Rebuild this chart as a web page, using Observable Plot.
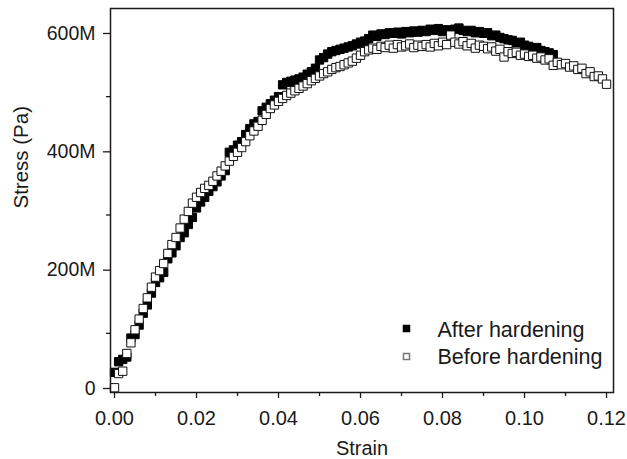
<!DOCTYPE html>
<html>
<head>
<meta charset="utf-8">
<script src="https://cdn.jsdelivr.net/npm/d3@7"></script>
<script src="https://cdn.jsdelivr.net/npm/@observablehq/plot@0.6"></script>
<style>
  html, body { margin: 0; padding: 0; background: #fff; }
  #chart { width: 627px; height: 459px; }
</style>
</head>
<body>
<div id="chart"></div>
<script>
// Strain values (dimensionless) and stress values (MPa)
const beforeStrain = [
  0.000,0.001,0.002,0.003,0.004,0.005,0.006,0.007,0.008,0.009,
  0.010,0.011,0.012,0.013,0.014,0.015,0.016,0.017,0.018,0.019,
  0.020,0.021,0.022,0.023,0.024,0.025,0.026,0.027,0.028,0.029,
  0.030,0.031,0.032,0.033,0.034,0.035,0.036,0.037,0.038,0.039,
  0.040,0.041,0.042,0.043,0.044,0.045,0.046,0.047,0.048,0.049,
  0.050,0.051,0.052,0.053,0.054,0.055,0.056,0.057,0.058,0.059,
  0.060,0.061,0.062,0.063,0.064,0.065,0.066,0.067,0.068,0.069,
  0.070,0.071,0.072,0.073,0.074,0.075,0.076,0.077,0.078,0.079,
  0.080,0.081,0.082,0.083,0.084,0.085,0.086,0.087,0.088,0.089,
  0.090,0.091,0.092,0.093,0.094,0.095,0.096,0.097,0.098,0.099,
  0.100,0.101,0.102,0.103,0.104,0.105,0.106,0.107,0.108,0.109,
  0.110,0.111,0.112,0.113,0.114,0.115,0.116,0.117,0.118,0.119,
  0.120
];
const beforeStress = [
  8,32,36,66,84,106,124,142,160,178,
  195,206,218,235,250,262,278,293,306,320,
  330,338,345,350,357,366,374,383,391,399,
  406,414,424,434,442,450,460,470,480,486,
  492,497,502,506,510,514,518,522,527,531,
  535,539,542,546,549,551,554,557,560,565,
  570,576,579,582,580,585,583,587,582,588,
  584,586,589,583,587,585,588,584,590,586,
  592,588,604,592,589,593,586,590,582,587,
  585,581,584,577,580,567,576,573,575,570,
  572,568,570,565,567,562,564,553,558,554,
  556,550,552,546,548,539,542,534,535,530,
  521
];
const afterStrain = [
  0.000,0.001,0.002,0.003,0.004,0.005,0.006,0.007,0.008,0.009,
  0.010,0.011,0.012,0.013,0.014,0.015,0.016,0.017,0.018,0.019,
  0.020,0.021,0.022,0.023,0.024,0.025,0.026,0.027,0.028,0.029,
  0.030,0.031,0.032,0.033,0.034,0.035,0.036,0.037,0.038,0.039,
  0.040,0.041,0.042,0.043,0.044,0.045,0.046,0.047,0.048,0.049,
  0.050,0.051,0.052,0.053,0.054,0.055,0.056,0.057,0.058,0.059,
  0.060,0.061,0.062,0.063,0.064,0.065,0.066,0.067,0.068,0.069,
  0.070,0.071,0.072,0.073,0.074,0.075,0.076,0.077,0.078,0.079,
  0.080,0.081,0.082,0.083,0.084,0.085,0.086,0.087,0.088,0.089,
  0.090,0.091,0.092,0.093,0.094,0.095,0.096,0.097,0.098,0.099,
  0.100,0.101,0.102,0.103,0.104,0.105,0.106,0.107
];
const afterStress = [
  34,52,56,60,92,98,114,134,148,168,
  186,194,203,226,236,248,262,270,284,296,
  312,322,330,340,348,356,366,375,406,410,
  418,424,436,446,454,458,476,482,488,494,
  500,520,524,526,528,530,533,538,542,548,
  562,566,572,576,578,580,582,584,586,589,
  592,594,598,604,602,606,605,608,607,609,
  606,610,608,611,609,612,610,614,612,615,
  610,613,611,614,616,612,610,612,608,610,
  607,608,603,604,600,598,596,595,591,592,
  587,585,582,583,578,576,574,571
];
const xMajorTicks = [0, 0.02, 0.04, 0.06, 0.08, 0.10, 0.12];
const xMinorTicks = [0.01, 0.03, 0.05, 0.07, 0.09, 0.11];
const yMajorTicks = [0, 200e6, 400e6, 600e6];
const yMinorTicks = [100e6, 300e6, 500e6];
const seriesNames = ["After hardening", "Before hardening"];

const after = afterStrain.map((s, i) => ({strain: s, stress: afterStress[i] * 1e6}));
const before = beforeStrain.map((s, i) => ({strain: s, stress: beforeStress[i] * 1e6}));

const font = "'Liberation Sans', Arial, Helvetica, sans-serif";
const ink = "#1a1a1a";

const chart = Plot.plot({
  width: 627,
  height: 459,
  marginLeft: 110,
  marginRight: 14,
  marginTop: 8,
  marginBottom: 67,
  style: {fontFamily: font, fontSize: "20px", color: ink, background: "#fff", overflow: "visible"},
  x: {domain: [-0.00098, 0.1217]},
  y: {domain: [0, 649e6]},
  marks: [
    Plot.dot(after, {x: "strain", y: "stress", symbol: "square", r: 4.7, fill: "#000", stroke: "#000", strokeWidth: 1}),
    Plot.dot(before, {x: "strain", y: "stress", symbol: "square", r: 4.7, fill: "#fff", stroke: "#111", strokeWidth: 1}),
    Plot.frame({stroke: ink, strokeWidth: 1.5}),
    Plot.axisX({ticks: xMajorTicks, tickSize: 6, tickPadding: 12, tickFormat: d3.format(".2f"), fontSize: 20, label: null, stroke: ink, strokeWidth: 1.3}),
    Plot.axisX({ticks: xMinorTicks, tickSize: 4, tickFormat: () => "", label: null, stroke: ink, strokeWidth: 1.3}),
    Plot.axisY({ticks: yMajorTicks, tickSize: 7, tickPadding: 8, dy: -4, fontSize: 19.5, tickFormat: d => d === 0 ? "0" : (d / 1e6) + "M", label: null, stroke: ink, strokeWidth: 1.3}),
    Plot.axisY({ticks: yMinorTicks, tickSize: 4, tickFormat: () => "", label: null, stroke: ink, strokeWidth: 1.3}),
    Plot.text(["Strain"], {frameAnchor: "bottom", dy: 62, lineAnchor: "bottom", fontSize: 20, fill: ink}),
    Plot.text(["Stress (Pa)"], {frameAnchor: "left", dx: -89, dy: 8, rotate: -90, lineAnchor: "middle", fontSize: 20.5, fill: ink}),
    // legend
    Plot.dot([seriesNames[0]], {frameAnchor: "bottom-right", dx: -207, dy: -64, symbol: "square", r: 3.4, fill: "#000", stroke: "#000"}),
    Plot.dot([seriesNames[1]], {frameAnchor: "bottom-right", dx: -207, dy: -36, symbol: "square", r: 3.4, fill: "#fff", stroke: "#777"}),
    Plot.text([seriesNames[0]], {frameAnchor: "bottom-right", dx: -176, dy: -56, textAnchor: "start", lineAnchor: "bottom", fontSize: 21.5, fill: ink}),
    Plot.text([seriesNames[1]], {frameAnchor: "bottom-right", dx: -176, dy: -29, textAnchor: "start", lineAnchor: "bottom", fontSize: 21.5, fill: ink})
  ]
});
document.getElementById("chart").appendChild(chart);
</script>
</body>
</html>
